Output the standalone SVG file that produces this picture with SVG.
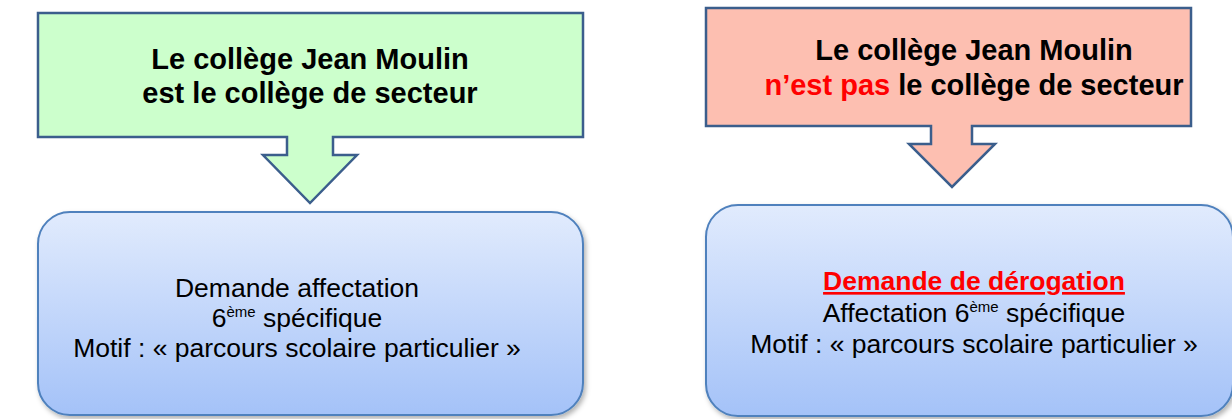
<svg xmlns="http://www.w3.org/2000/svg" width="1232" height="419" viewBox="0 0 1232 419">
<defs>
<linearGradient id="blueGrad" x1="0" y1="0" x2="0" y2="1">
<stop offset="0" stop-color="#E1EBFD"/>
<stop offset="1" stop-color="#A4C2F8"/>
</linearGradient>
<filter id="shadow" x="-5%" y="-5%" width="115%" height="120%">
<feDropShadow dx="2" dy="3" stdDeviation="2.5" flood-color="#000" flood-opacity="0.3"/>
</filter>
</defs>
<style>
.callout{stroke:#3B5E8C;stroke-width:2.5;stroke-linejoin:miter}
.box{fill:url(#blueGrad);stroke:#4F81BD;stroke-width:2;filter:url(#shadow)}
.title{font-family:"Liberation Sans",Arial,sans-serif;font-weight:bold;font-size:29px;fill:#000;text-anchor:middle}
.body{font-family:"Liberation Sans",Arial,sans-serif;font-size:26.5px;fill:#000;text-anchor:middle}
.sup{font-size:15px}
.red{fill:#FF0000}
</style>
<rect width="1232" height="419" fill="#FFFFFF"/>
<g id="connectors"/>
<g id="node-secteur">
<path class="callout" fill="#CCFFCC" d="M38,13 H583 V137 H333 V155 H357 L310,203 L263,155 H287 V137 H38 Z"/>
<text class="title" x="310" y="69">Le collège Jean Moulin</text>
<text class="title" x="310" y="103">est le collège de secteur</text>
</g>
<g id="node-hors-secteur">
<path class="callout" fill="#FDBFB1" d="M706,8 H1191 V126 H972 V144 H995 L952,187 L909,144 H931 V126 H706 Z"/>
<text class="title" x="974" y="60">Le collège Jean Moulin</text>
<text class="title" x="974" y="95"><tspan class="red">n’est pas</tspan> le collège de secteur</text>
</g>
<g id="node-affectation">
<rect class="box" x="38" y="212" width="545" height="203" rx="32" ry="32"/>
<text class="body" x="297" y="297">Demande affectation</text>
<text class="body" x="297" y="327">6<tspan class="sup" dy="-10">ème</tspan><tspan dy="10"> spécifique</tspan></text>
<text class="body" x="297" y="357">Motif : « parcours scolaire particulier »</text>
</g>
<g id="node-derogation">
<rect class="box" x="706" y="205" width="527" height="211" rx="32" ry="32"/>
<text class="body red" x="974" y="290" font-weight="bold" text-decoration="underline">Demande de dérogation</text>
<text class="body" x="974" y="322">Affectation 6<tspan class="sup" dy="-10">ème</tspan><tspan dy="10"> spécifique</tspan></text>
<text class="body" x="974" y="353">Motif : « parcours scolaire particulier »</text>
</g>
</svg>
